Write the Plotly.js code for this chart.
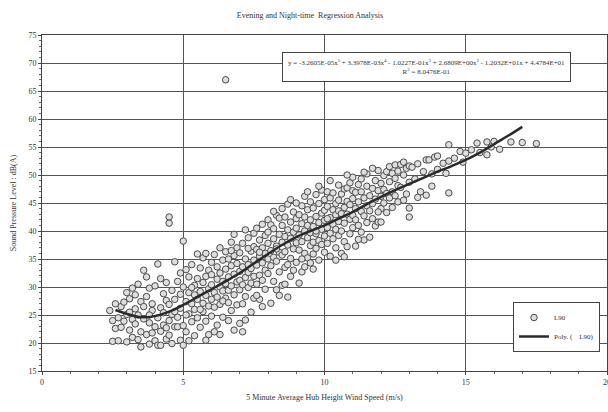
<!DOCTYPE html>
<html>
<head>
<meta charset="utf-8">
<script src="https://cdn.plot.ly/plotly-3.0.1.min.js"></script>
<style>
html,body{margin:0;padding:0;width:608px;height:412px;overflow:hidden;background:#fff;}
#chart{width:625px;height:412px;}
</style>
</head>
<body>
<div id="chart"></div>
<script>
// Scatter points (L90): wind speed (m/s), sound level dB(A)
const windSpeed = [
2.4,2.5,2.6,2.7,2.7,2.8,2.8,2.9,2.9,3.0,3.0,3.0,2.6,2.5,
3.1,3.1,3.2,3.2,3.2,3.3,3.3,3.4,3.4,3.4,3.5,3.5,3.5,3.3,3.1,
3.6,3.6,3.7,3.7,3.7,3.8,3.8,3.8,3.9,3.9,3.9,4.0,4.0,4.0,3.6,3.8,
4.1,4.1,4.1,4.2,4.2,4.2,4.3,4.3,4.3,4.4,4.4,4.4,4.5,4.5,4.5,4.5,4.5,4.2,4.4,
4.6,4.6,4.6,4.7,4.7,4.7,4.8,4.8,4.8,4.9,4.9,4.9,5.0,5.0,5.0,5.0,4.7,4.9,
5.1,5.1,5.1,5.2,5.2,5.2,5.2,5.3,5.3,5.3,5.4,5.4,5.4,5.4,5.5,5.5,5.5,5.5,5.3,5.1,
5.6,5.6,5.6,5.7,5.7,5.7,5.7,5.8,5.8,5.8,5.8,5.9,5.9,5.9,5.9,6.0,6.0,6.0,6.0,5.6,5.8,6.0,
6.1,6.1,6.1,6.2,6.2,6.2,6.2,6.3,6.3,6.3,6.3,6.4,6.4,6.4,6.4,6.5,6.5,6.5,6.5,6.5,6.1,6.3,6.4,
6.6,6.6,6.6,6.6,6.7,6.7,6.7,6.7,6.8,6.8,6.8,6.8,6.9,6.9,6.9,6.9,7.0,7.0,7.0,7.0,6.6,6.8,7.0,6.7,
7.1,7.1,7.1,7.1,7.2,7.2,7.2,7.2,7.3,7.3,7.3,7.3,7.4,7.4,7.4,7.4,7.5,7.5,7.5,7.5,7.1,7.3,7.5,7.2,
7.6,7.6,7.6,7.6,7.7,7.7,7.7,7.7,7.8,7.8,7.8,7.8,7.9,7.9,7.9,7.9,8.0,8.0,8.0,8.0,7.6,7.8,8.0,7.7,
8.1,8.1,8.1,8.1,8.2,8.2,8.2,8.2,8.3,8.3,8.3,8.3,8.4,8.4,8.4,8.4,8.5,8.5,8.5,8.5,8.2,8.4,8.5,8.3,
8.6,8.6,8.6,8.6,8.7,8.7,8.7,8.7,8.8,8.8,8.8,8.8,8.9,8.9,8.9,8.9,9.0,9.0,9.0,9.0,8.6,8.8,9.0,8.7,
9.1,9.1,9.1,9.1,9.2,9.2,9.2,9.2,9.3,9.3,9.3,9.3,9.4,9.4,9.4,9.4,9.5,9.5,9.5,9.5,9.2,9.4,9.5,9.3,
9.6,9.6,9.6,9.6,9.7,9.7,9.7,9.7,9.8,9.8,9.8,9.8,9.9,9.9,9.9,9.9,10.0,10.0,10.0,10.0,9.6,9.8,10.0,9.7,
10.1,10.1,10.1,10.1,10.2,10.2,10.2,10.2,10.3,10.3,10.3,10.3,10.4,10.4,10.4,10.4,10.5,10.5,10.5,10.5,10.2,10.4,10.5,10.1,
10.6,10.6,10.6,10.7,10.7,10.7,10.7,10.8,10.8,10.8,10.8,10.9,10.9,10.9,10.9,11.0,11.0,11.0,11.0,10.6,10.8,11.0,10.7,
11.1,11.1,11.1,11.1,11.2,11.2,11.2,11.3,11.3,11.3,11.3,11.4,11.4,11.4,11.5,11.5,11.5,11.5,11.2,11.4,
11.6,11.6,11.6,11.7,11.7,11.7,11.8,11.8,11.8,11.9,11.9,11.9,12.0,12.0,12.0,12.0,11.7,11.9,
12.1,12.1,12.1,12.2,12.2,12.2,12.3,12.3,12.3,12.4,12.4,12.4,12.5,12.5,12.5,
12.6,12.6,12.6,12.7,12.7,12.8,12.8,12.8,12.9,12.9,13.0,13.0,13.0,13.0,
13.1,13.2,13.3,13.4,13.5,13.6,13.6,13.7,13.8,13.9,14.0,13.3,13.8,14.0,
14.2,14.4,14.4,14.4,14.6,14.8,15.0,14.3,14.9,
15.2,15.4,15.5,15.75,15.75,15.9,16.2,16.6,16.0,
17.0,17.5
];
const soundLevel = [
25.8,20.3,22.6,24.5,20.4,26.5,22.8,23.9,27.3,20.2,25.1,29.0,27.0,24.0,
27.9,22.3,29.8,24.2,21.0,26.1,23.4,30.5,25.0,20.6,19.3,22.0,27.4,28.6,25.5,
24.3,26.5,31.8,21.5,28.3,29.8,23.6,19.8,21.8,25.8,27.0,22.9,20.4,30.2,33.0,25.0,
34.1,24.5,19.6,26.3,22.1,19.6,28.8,23.2,25.4,20.7,27.6,30.8,42.5,41.4,24.0,21.4,26.9,31.5,22.7,
29.4,19.9,25.1,34.5,22.9,27.8,22.9,31.0,24.6,20.5,28.7,26.2,38.2,19.6,23.1,30.0,25.6,32.5,
27.4,33.1,22.0,29.0,25.2,31.8,20.4,27.0,34.0,23.8,30.3,26.0,28.6,21.3,35.9,31.5,24.5,27.8,29.9,25.0,
29.2,33.4,22.8,27.1,30.8,25.6,35.2,36.0,28.5,23.9,31.9,26.6,33.0,29.7,21.5,30.4,27.8,34.4,24.8,26.0,20.5,32.2,
29.0,35.8,26.4,31.4,28.2,33.6,23.2,30.0,37.0,26.9,32.5,29.3,34.8,24.6,31.0,67.0,28.0,33.2,36.3,30.6,22.0,21.5,27.5,
31.8,27.2,35.0,29.4,33.8,30.2,25.8,38.0,39.4,32.3,28.6,35.6,30.9,34.2,26.8,37.0,32.8,29.5,36.1,23.5,24.0,22.3,31.2,36.5,
22.0,33.6,30.4,37.8,24.1,35.0,31.7,28.3,34.0,38.8,29.9,32.6,25.5,36.4,33.3,30.7,34.8,39.6,31.9,28.0,27.0,36.9,37.2,40.2,
33.9,36.7,30.5,40.5,35.5,32.1,38.4,27.8,37.0,34.3,41.2,31.2,36.0,33.0,39.2,29.6,37.8,35.0,42.0,32.4,28.5,26.5,39.8,36.2,
41.1,27.1,36.5,33.8,38.6,35.3,31.0,40.4,37.3,34.6,42.8,29.5,42.3,36.2,39.4,32.7,38.0,35.7,41.0,30.3,43.5,28.5,44.0,36.8,
39.0,36.3,42.5,33.5,28.2,40.2,37.5,44.8,38.7,35.1,41.6,31.9,39.8,43.4,36.8,33.0,40.5,37.9,45.0,34.4,30.5,45.6,42.2,34.0,
30.7,39.3,42.9,36.6,32.7,41.3,38.1,44.5,40.0,36.0,46.2,42.5,38.8,35.2,43.8,41.0,34.3,39.7,45.2,37.4,35.0,47.0,42.0,33.6,
40.8,38.0,44.1,35.9,42.6,39.5,46.5,36.9,41.5,44.9,38.3,34.8,40.3,43.2,47.3,37.6,41.9,39.1,45.6,36.2,33.2,48.0,43.7,40.0,
40.6,44.4,37.8,47.0,42.4,39.6,45.9,35.5,46.8,41.2,43.8,38.6,44.9,40.3,42.9,37.0,45.5,41.7,48.2,39.2,49.0,34.8,43.6,42.2,
43.1,46.6,40.0,44.2,41.4,47.5,38.1,47.7,37.2,43.0,45.3,42.1,48.6,44.7,39.5,49.6,45.8,42.8,40.6,36.0,50.0,47.2,35.4,
37.3,44.0,46.9,42.0,45.2,48.3,41.0,43.5,47.0,49.3,39.8,38.4,45.9,42.7,44.5,48.0,41.5,50.2,38.5,50.5,
38.9,46.3,43.6,47.6,44.9,42.2,49.0,45.7,40.9,41.6,47.2,50.8,41.6,46.2,48.5,44.0,51.2,43.4,
47.4,49.9,45.0,50.6,46.7,43.3,48.8,51.5,45.9,50.3,47.0,44.2,49.4,51.8,46.3,
50.7,48.1,45.2,51.9,47.8,45.5,50.0,52.3,51.2,46.6,42.5,44.1,51.6,48.7,
51.4,49.3,52.0,47.0,50.6,46.4,52.7,52.7,50.2,53.2,53.4,46.0,48.0,51.0,
52.1,55.4,52.5,46.8,53.0,54.2,53.9,50.3,52.3,
54.5,55.7,54.0,55.9,53.6,55.0,54.6,55.9,56.0,
55.8,55.6
];
// Polynomial trend line
const fitSpeed = [2.6,3.0,3.5,4.0,4.5,5.0,5.5,6.0,6.5,7.0,7.5,8.0,8.5,9.0,9.5,10.0,10.5,11.0,11.5,12.0,12.5,13.0,13.5,14.0,14.5,15.0,15.5,16.0,16.5,17.0];
const fitLevel = [25.9,25.2,24.6,24.8,25.6,26.8,28.2,29.6,31.0,32.5,34.2,35.9,37.5,38.9,40.0,41.0,42.2,43.4,44.8,46.1,47.3,48.4,49.5,50.6,51.6,52.7,54.0,55.5,57.0,58.6];
const xTicks = [0,5,10,15,20];
const yTicks = [15,20,25,30,35,40,45,50,55,60,65,70,75];
const titleText = 'Evening and Night-time  Regression Analysis';
const xTitle = '5 Minute Average Hub Height Wind Speed (m/s)';
const yTitle = 'Sound Pressure Level : dB(A)';
const eqText = 'y = -3.2605E-05x<sup>5</sup> + 3.3978E-03x<sup>4</sup> - 1.0227E-01x<sup>3</sup> + 2.6809E+00x<sup>2</sup> - 1.2032E+01x + 4.4784E+01<br>R<sup>2</sup> = 8.0476E-01';

const FONT = 'Liberation Serif, Times New Roman, serif';

const traces = [
  {
    type: 'scatter', mode: 'markers', name: 'L90',
    x: windSpeed, y: soundLevel,
    marker: {symbol: 'circle', size: 6.5, color: '#dedede', line: {color: '#4a4a4a', width: 1}}
  },
  {
    type: 'scatter', mode: 'lines', name: 'Poly. (    L90)',
    x: fitSpeed, y: fitLevel, line: {color: '#2a2a2a', width: 2.5, shape: 'spline'}
  }
];

const layout = {
  width: 625, height: 412,
  margin: {l: 42, r: 18, t: 35, b: 41},
  paper_bgcolor: '#ffffff', plot_bgcolor: '#ffffff',
  font: {family: FONT, color: '#333', size: 8},
  title: {text: titleText, font: {family: FONT, size: 8, color: '#333'}, x: 310/625, xanchor: 'center', y: 1 - 15/412, yanchor: 'middle'},
  xaxis: {
    range: [0, 20], tickvals: xTicks, ticktext: xTicks.map(String),
    showgrid: true, gridcolor: '#555', gridwidth: 1, zeroline: false,
    showline: true, linecolor: '#444', linewidth: 1, mirror: true,
    ticks: 'outside', ticklen: 3, tickcolor: '#444',
    minor: {dtick: 1, ticks: 'outside', ticklen: 2, tickcolor: '#666', showgrid: false},
    tickfont: {family: FONT, size: 8, color: '#333'},
    title: {text: xTitle, font: {family: FONT, size: 8, color: '#333'}, standoff: 8}
  },
  yaxis: {
    range: [15, 75], tickvals: yTicks, ticktext: yTicks.map(String),
    showgrid: true, gridcolor: '#555', gridwidth: 1, zeroline: false,
    showline: true, linecolor: '#444', linewidth: 1, mirror: true,
    ticks: 'outside', ticklen: 3, tickcolor: '#444',
    minor: {dtick: 1, ticks: 'outside', ticklen: 2, tickcolor: '#666', showgrid: false},
    tickfont: {family: FONT, size: 8, color: '#333'},
    title: {text: yTitle, font: {family: FONT, size: 8, color: '#333'}, standoff: 10}
  },
  showlegend: true,
  legend: {
    x: (600 - 42) / 565, xanchor: 'right', y: 1 - (352 - 35) / 336, yanchor: 'bottom',
    bgcolor: '#ffffff', bordercolor: '#444', borderwidth: 1,
    font: {family: FONT, size: 7, color: '#333'}, tracegroupgap: 0, itemwidth: 30
  },
  annotations: [{
    xref: 'paper', yref: 'paper', x: (426 - 42) / 565, y: 1 - (67 - 35) / 336,
    xanchor: 'center', yanchor: 'middle', text: eqText, showarrow: false,
    font: {family: FONT, size: 7, color: '#333'},
    bgcolor: '#ffffff', bordercolor: '#444', borderwidth: 1, borderpad: 5, align: 'center'
  }]
};

Plotly.newPlot('chart', traces, layout, {displayModeBar: false, staticPlot: true});
</script>
</body>
</html>
